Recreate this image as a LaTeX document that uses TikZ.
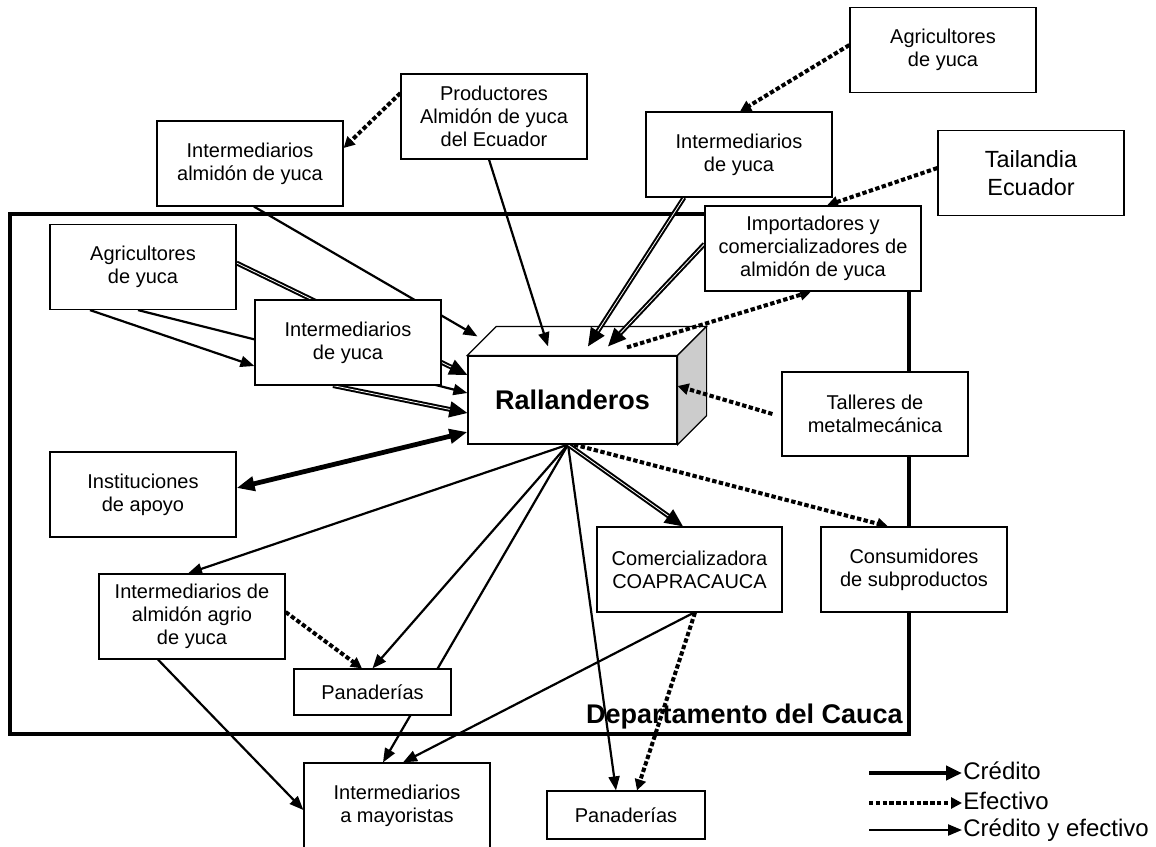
\documentclass[tikz,border=0pt]{standalone}
\usepackage{fontspec}
\setmainfont{Liberation Sans}
\usetikzlibrary{arrows.meta,backgrounds}

\begin{document}
\begin{tikzpicture}[x=0.5pt,y=-0.5pt,
  caja/.style={draw,fill=white,line width=0.6pt,align=center,inner sep=1pt,
    minimum width=93pt,minimum height=42.5pt,font=\fontsize{10}{11.6}\selectfont},
  ambos/.style={line width=1.1pt,-{Triangle[length=7pt,width=5.5pt]}},
  doble/.style={double,line width=1pt,double distance=0.4pt,-{Triangle[length=9pt,width=8pt]}},
  cred/.style={line width=2.4pt,-{Triangle[length=8pt,width=7pt]}},
  efec/.style={line width=2pt,dash pattern=on 2.2pt off 1.2pt,-{Triangle[length=5.5pt,width=5.5pt]}},
  leyenda/.style={anchor=west,inner sep=0.5pt,text height=1.7ex,text depth=0.4ex,
    font=\fontsize{12}{14}\selectfont}]
  \useasboundingbox (0,0) rectangle (1156,846);
  % outside the department
  \node[caja] (agrTop) at (943,50) {Agricultores\\de yuca};
  \node[caja,font=\fontsize{11.7}{14}\selectfont] (tail) at (1031,173) {Tailandia\\Ecuador};
  \node[caja] (intTop) at (739,154.5) {Intermediarios\\de yuca};
  \node[caja,minimum width=108pt] (impo) at (813,248.5) {Importadores y\\comercializadores de\\almidón de yuca};
  \node[caja] (prod) at (494,116.5) {Productores\\Almidón de yuca\\del Ecuador};
  \node[caja] (intAlm) at (250,163.5) {Intermediarios\\almidón de yuca};
  % inside the department
  \node[caja] (agrL) at (143,267) {Agricultores\\de yuca};
  \node[caja] (intYuca) at (348,342.5) {Intermediarios\\de yuca};
  \node[caja,minimum width=104.5pt,minimum height=44pt,font=\bfseries\fontsize{13.5}{15}\selectfont] (rall) at (572.5,400) {Rallanderos};
  \node[caja,minimum height=42pt] (tall) at (875,414) {Talleres de\\metalmecánica};
  \node[caja] (inst) at (143,494.5) {Instituciones\\de apoyo};
  \node[caja] (intAgrio) at (192,616.5) {Intermediarios de\\almidón agrio\\de yuca};
  \node[caja,minimum width=78.5pt,minimum height=23pt] (pan1) at (372.5,692) {Panaderías};
  \node[caja,minimum width=92.5pt] (comer) at (689.5,569.5) {Comercializadora\\COAPRACAUCA};
  \node[caja] (cons) at (914,569.5) {Consumidores\\de subproductos};
  \node[caja,minimum width=79pt,minimum height=24pt] (pan2) at (626,815) {Panaderías};
  \node[caja] (mayo) at (397,805.5) {Intermediarios\\a mayoristas};
  % legend
  \node[leyenda] (lgCred) at (962,773) {Crédito};
  \node[leyenda] (lgEfec) at (962,803) {Efectivo};
  \node[leyenda] (lgAmb) at (962,830) {Crédito y efectivo};
  \coordinate (lgA) at (869,773);
  \coordinate (lgB) at (869,803);
  \coordinate (lgC) at (869,830);
  \draw[cred] (lgA) -- (lgCred.west);
  \draw[efec] (lgB) -- (lgEfec.west);
  \draw[ambos] (lgC) -- (lgAmb.west);

  \begin{scope}[on background layer]
    \draw[line width=1.9pt] (10,214) rectangle (909,734);
    \node[anchor=base east,inner sep=0pt,font=\bfseries\fontsize{13.5}{15}\selectfont] (depto) at (903,723) {Departamento del Cauca};
    % box faces
    \draw[line width=0.6pt,fill=white] (rall.north west) -- ++(29,-29) -- ([shift={(29,-29)}]rall.north east) -- (rall.north east) -- cycle;
    \draw[line width=0.6pt,fill=gray!40] (rall.north east) -- ++(29,-29) -- ([shift={(29,-29)}]rall.south east) -- (rall.south east) -- cycle;
    % suppliers
    \draw[efec] ([shift={(0,-23.5)}]prod.west) -- ([shift={(0,-15.5)}]intAlm.east);
    \draw[efec] ([shift={(0,-5)}]agrTop.west) -- ([shift={(1,0)}]intTop.north);
    \draw[efec] ([shift={(0,-5)}]tail.west) -- ([shift={(14,0)}]impo.north);
    % into the rallanderos
    \draw[ambos] ([shift={(4,0)}]intAlm.south) -- ([shift={(10,-19)}]rall.north west);
    \draw[ambos] ([shift={(-5,0)}]prod.south) -- ([shift={(-24.5,-9)}]rall.north);
    \draw[doble] ([shift={(-55,0)}]intTop.south) -- ([shift={(15.5,-9)}]rall.north);
    \draw[doble] ([shift={(0,-4.5)}]impo.west) -- ([shift={(35.5,-9)}]rall.north);
    \draw[efec] ([shift={(54.5,-8)}]rall.north) -- ([shift={(-2,0)}]impo.south);
    \draw[efec] ([shift={(-9,0)}]tall.west) -- ([shift={(0,-14)}]rall.east);
    \draw[doble] ([shift={(0,-4)}]agrL.east) -- ([shift={(0,-25)}]rall.west);
    \draw[ambos] ([shift={(-5,0)}]agrL.south) -- ([shift={(0,-7)}]rall.west);
    \draw[ambos] ([shift={(-53,0)}]agrL.south) -- ([shift={(0,23.5)}]intYuca.west);
    \draw[doble] ([shift={(-15,0)}]intYuca.south) -- ([shift={(0,13)}]rall.west);
    \draw[cred,{Triangle[length=9pt,width=7pt]}-{Triangle[length=9pt,width=7pt]}] ([shift={(0,-6.5)}]inst.east) -- ([shift={(0,32)}]rall.west);
    % out of the rallanderos
    \coordinate (fan) at ([shift={(-4.5,0)}]rall.south);
    \draw[ambos] (fan) -- ([shift={(-4,0)}]intAgrio.north);
    \draw[ambos] (fan) -- (pan1.north);
    \draw[ambos] (fan) -- ([shift={(-14,0)}]mayo.north);
    \draw[ambos] (fan) -- ([shift={(-10,0)}]pan2.north);
    \draw[doble] (fan) -- ([shift={(-6.5,0)}]comer.north);
    \draw[efec] ([shift={(6,0)}]fan) -- ([shift={(-26,0)}]cons.north);
    \draw[ambos] ([shift={(4.5,0)}]comer.south) -- ([shift={(6,0)}]mayo.north);
    \draw[efec] ([shift={(5.5,0)}]comer.south) -- ([shift={(11,0)}]pan2.north);
    \draw[efec] ([shift={(0,-4.5)}]intAgrio.east) -- ([shift={(-10.5,0)}]pan1.north);
    \draw[ambos] ([shift={(-34,0)}]intAgrio.south) -- ([shift={(0,4.5)}]mayo.west);
  \end{scope}
\end{tikzpicture}
\end{document}
